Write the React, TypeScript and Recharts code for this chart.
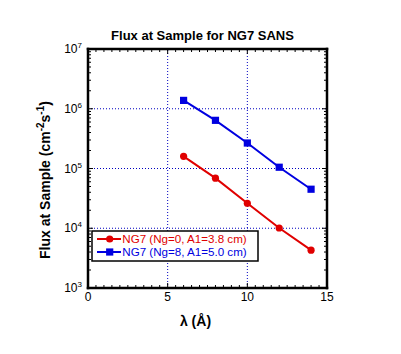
import React from 'react';
import { LineChart, Line, XAxis, YAxis, ReferenceLine, Customized } from 'recharts';

// ---- data ----
const wavelengths = [6, 8, 10, 12, 14];
const fluxNg0 = [1.6e5, 6.9e4, 2.62e4, 1.01e4, 4.3e3];
const fluxNg8 = [1.38e6, 6.4e5, 2.67e5, 1.05e5, 4.5e4];
const seriesNames = ['NG7 (Ng=0, A1=3.8 cm)', 'NG7 (Ng=8, A1=5.0 cm)'];
const seriesColors = ['#e00000', '#0000e0'];
const xMajorTicks = [0, 5, 10, 15];
const xMinorStep = 0.5;
const yMajorTicks = [1e3, 1e4, 1e5, 1e6, 1e7];
const xGridValues = [5, 10];
const yGridValues = [1e4, 1e5, 1e6];
const titleText = 'Flux at Sample for NG7 SANS';
const xLabelText = 'λ (Å)';

const xAllTicks: number[] = [];
for (let v = xMajorTicks[0]; v <= xMajorTicks[xMajorTicks.length - 1] + 1e-9; v += xMinorStep) {
  xAllTicks.push(Math.round(v * 10) / 10);
}
const yAllTicks: number[] = [];
for (let d = 0; d < yMajorTicks.length - 1; d++) {
  for (let k = 1; k < 10; k++) yAllTicks.push(yMajorTicks[d] * k);
}
yAllTicks.push(yMajorTicks[yMajorTicks.length - 1]);

const data = wavelengths.map((x, i) => ({ x, a: fluxNg0[i], b: fluxNg8[i] }));

const FONT = 'Liberation Sans, Arial, Helvetica, sans-serif';
const MAJOR = 5;
const MINOR = 3;

const BottomTick = (p: any) => {
  const { x, y, payload } = p;
  const major = xMajorTicks.includes(payload.value);
  return (
    <g>
      <line x1={x} x2={x} y1={y} y2={y - (major ? MAJOR : MINOR)} stroke="#000" strokeWidth={1} />
      {major && (
        <text x={x} y={y + 13} textAnchor="middle" fontSize={12} fontFamily={FONT} fill="#000">
          {payload.value}
        </text>
      )}
    </g>
  );
};
const TopTick = (p: any) => {
  const { x, y, payload } = p;
  const major = xMajorTicks.includes(payload.value);
  return <line x1={x} x2={x} y1={y} y2={y + (major ? MAJOR : MINOR)} stroke="#000" strokeWidth={1} />;
};
const LeftTick = (p: any) => {
  const { x, y, payload } = p;
  const major = yMajorTicks.includes(payload.value);
  return (
    <g>
      <line x1={x} x2={x + (major ? MAJOR : MINOR)} y1={y} y2={y} stroke="#000" strokeWidth={1} />
      {major && (
        <text x={x - 6} y={y + 4} textAnchor="end" fontSize={12} fontFamily={FONT} fill="#000">
          10
          <tspan fontSize={8} dy={-5}>{Math.round(Math.log10(payload.value))}</tspan>
        </text>
      )}
    </g>
  );
};
const RightTick = (p: any) => {
  const { x, y, payload } = p;
  const major = yMajorTicks.includes(payload.value);
  return <line x1={x} x2={x - (major ? MAJOR : MINOR)} y1={y} y2={y} stroke="#000" strokeWidth={1} />;
};

const CircleDot = (p: any) => {
  const { cx, cy } = p;
  if (cx == null || cy == null) return null;
  return <circle cx={cx} cy={cy} r={3.6} fill={seriesColors[0]} stroke="none" />;
};
const SquareDot = (p: any) => {
  const { cx, cy } = p;
  if (cx == null || cy == null) return null;
  return <rect x={cx - 3.6} y={cy - 3.6} width={7.2} height={7.2} fill={seriesColors[1]} stroke="none" />;
};

const Decorations = () => (
  <g>
    <text x={194.5} y={32} textAnchor="middle" fontSize={13} fontWeight="bold" fontFamily={FONT} fill="#000">
      {titleText}
    </text>
    <text x={187.5} y={318} textAnchor="middle" fontSize={14} fontWeight="bold" fontFamily={FONT} fill="#000">
      {xLabelText}
    </text>
    <text
      x={42}
      y={172}
      transform="rotate(-90 42 172)"
      textAnchor="middle"
      fontSize={14}
      fontWeight="bold"
      fontFamily={FONT}
      fill="#000"
    >
      Flux at Sample (cm
      <tspan fontSize={10} dy={-6}>-2</tspan>
      <tspan dy={6}>s</tspan>
      <tspan fontSize={10} dy={-6}>-1</tspan>
      <tspan dy={6}>)</tspan>
    </text>
  </g>
);

const LegendOverlay = () => (
  <svg
    width={385}
    height={338}
    style={{ position: 'absolute', left: 0, top: 0, pointerEvents: 'none', overflow: 'visible' }}
  >
    <rect x={84} y={223} width={166} height={30} fill="#fff" stroke="#000" strokeWidth={1.5} />
    {seriesNames.map((name, i) => {
      const cy = 231 + i * 13;
      return (
        <g key={name}>
          <line x1={89} x2={113} y1={cy} y2={cy} stroke={seriesColors[i]} strokeWidth={2} />
          {i === 0 ? (
            <circle cx={101.7} cy={cy} r={3.6} fill={seriesColors[i]} />
          ) : (
            <rect x={98.1} y={cy - 3.6} width={7.2} height={7.2} fill={seriesColors[i]} />
          )}
          <text x={114.3} y={cy + 4} fontSize={11.6} fontFamily={FONT} fill={seriesColors[i]}>
            {name}
          </text>
        </g>
      );
    })}
  </svg>
);

const axisLine = { stroke: '#000', strokeWidth: 2.5, strokeLinecap: 'square' as const };

export default function App() {
  return (
    <div style={{ position: 'relative', width: 385, height: 338 }}>
      <LineChart width={385} height={338} data={data} margin={{ top: 40, right: 65, bottom: 57, left: 79 }}>
        <XAxis
          xAxisId="b"
          dataKey="x"
          type="number"
          domain={[0, 15]}
          ticks={xAllTicks}
          interval={0}
          height={1}
          tickSize={0}
          tickMargin={0}
          tickLine={false}
          axisLine={axisLine}
          tick={<BottomTick />}
          allowDataOverflow
        />
        <XAxis
          xAxisId="t"
          orientation="top"
          dataKey="x"
          type="number"
          domain={[0, 15]}
          ticks={xAllTicks}
          interval={0}
          height={1}
          tickSize={0}
          tickMargin={0}
          tickLine={false}
          axisLine={axisLine}
          tick={<TopTick />}
          allowDataOverflow
        />
        <YAxis
          yAxisId="l"
          type="number"
          scale="log"
          domain={[1e3, 1e7]}
          ticks={yAllTicks}
          interval={0}
          width={1}
          tickSize={0}
          tickMargin={0}
          tickLine={false}
          axisLine={axisLine}
          tick={<LeftTick />}
          allowDataOverflow
        />
        <YAxis
          yAxisId="r"
          orientation="right"
          type="number"
          scale="log"
          domain={[1e3, 1e7]}
          ticks={yAllTicks}
          interval={0}
          width={1}
          tickSize={0}
          tickMargin={0}
          tickLine={false}
          axisLine={axisLine}
          tick={<RightTick />}
          allowDataOverflow
        />
        {xGridValues.map((v) => (
          <ReferenceLine key={'gx' + v} xAxisId="b" yAxisId="l" x={v} stroke="#0000c0" strokeDasharray="1 2" strokeWidth={1} />
        ))}
        {yGridValues.map((v) => (
          <ReferenceLine key={'gy' + v} xAxisId="b" yAxisId="l" y={v} stroke="#0000c0" strokeDasharray="1 2" strokeWidth={1} />
        ))}
        <Line
          xAxisId="b"
          yAxisId="l"
          dataKey="a"
          name={seriesNames[0]}
          stroke={seriesColors[0]}
          strokeWidth={2}
          dot={<CircleDot />}
          isAnimationActive={false}
        />
        <Line
          xAxisId="b"
          yAxisId="l"
          dataKey="b"
          name={seriesNames[1]}
          stroke={seriesColors[1]}
          strokeWidth={2}
          dot={<SquareDot />}
          isAnimationActive={false}
        />
        <Customized component={Decorations} />
      </LineChart>
      <LegendOverlay />
    </div>
  );
}
